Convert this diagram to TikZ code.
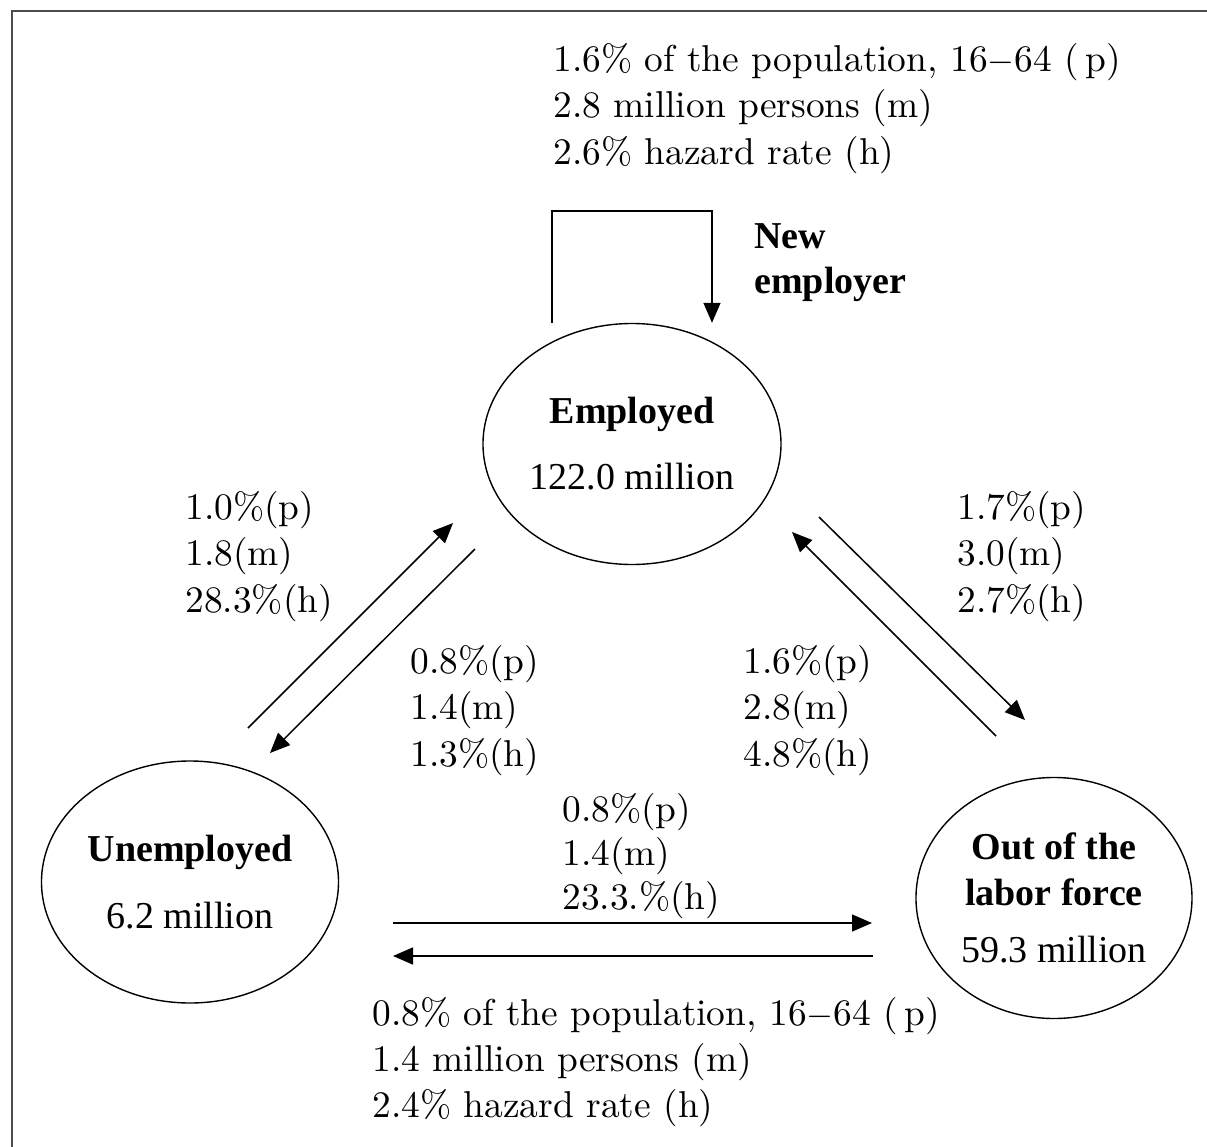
\documentclass[tikz,border=0pt]{standalone}
\usepackage{fontspec}
\setmainfont{lmroman10-regular}[Extension=.otf, BoldFont=lmroman10-bold]
\newfontfamily\garfont{Liberation Serif}
\usetikzlibrary{shapes.geometric,arrows.meta,calc}
\begin{document}
\begin{tikzpicture}[x=0.5pt,y=-0.5pt,
  lab/.style={anchor=base west, inner sep=0pt, font=\fontsize{18.7}{23.25}\selectfont},
  state/.style={draw, ellipse, line width=0.7pt, inner sep=0pt, align=center,
    font=\garfont\fontsize{19}{23}\selectfont},
  flow/.style={line width=0.75pt, -{Triangle[length=10pt,width=8.5pt]}},
  frameline/.style={line width=1pt, draw=black!70}]
\useasboundingbox (0,0) rectangle (1207,1147);
\draw[frameline] (12,1147) -- (12,11) -- (1207,11);

% states
\node[state, minimum width=149pt, minimum height=120.5pt] (E) at (632,444)
  {{\garfont\bfseries Employed}\\[10pt]{\garfont 122.0 million}};
\node[state, minimum width=148.5pt, minimum height=121pt] (U) at (190,882)
  {{\garfont\bfseries Unemployed}\\[10.5pt]{\garfont 6.2 million}};
\node[state, minimum width=138pt, minimum height=120.5pt] (O) at (1054,898)
  {{\garfont\bfseries Out of the}\\{\garfont\bfseries labor force}\\[5.5pt]{\garfont 59.3 million}};

% self loop
\draw[flow] ($(E.north)+(-80,0)$) -- ++(0,-112) -| ($(E.north)+(80,0)$);
\node[lab, font=\garfont\bfseries\fontsize{19}{22.5}\selectfont] (NE) at (754,248)
  {\vtop{\hbox{New}\hbox{employer}}};

% flows
\draw[flow] ($(U.center)+(58,-154)$) -- ($(E.center)+(-179,79)$);
\draw[flow] ($(E.center)+(-157,105)$) -- ($(U.center)+(80,-129)$);
\draw[flow] ($(E.center)+(187,73)$) -- ($(O.center)+(-29,-178)$);
\draw[flow] ($(O.center)+(-58,-162)$) -- ($(E.center)+(160,88)$);
\draw[flow] ($(U.center)+(203,41)$) -- ($(O.center)+(-182,25)$);
\draw[flow] ($(O.center)+(-181,58)$) -- ($(U.center)+(203,74)$);

% labels
\node[lab] (Ltop) at (553,71)
  {\vtop{\hbox{1.6\% of the population, 16$-$64 (\,p)}\hbox{2.8 million persons (m)}\hbox{2.6\% hazard rate (h)}}};
\node[lab] (Lue) at (185,519)
  {\vtop{\hbox{1.0\%(p)}\hbox{1.8(m)}\hbox{28.3\%(h)}}};
\node[lab] (Leu) at (410,673)
  {\vtop{\hbox{0.8\%(p)}\hbox{1.4(m)}\hbox{1.3\%(h)}}};
\node[lab] (Leo) at (957,519)
  {\vtop{\hbox{1.7\%(p)}\hbox{3.0(m)}\hbox{2.7\%(h)}}};
\node[lab] (Loe) at (743,673)
  {\vtop{\hbox{1.6\%(p)}\hbox{2.8(m)}\hbox{4.8\%(h)}}};
\node[lab, font=\fontsize{18.7}{22.2}\selectfont] (Luo) at (562,821)
  {\vtop{\hbox{0.8\%(p)}\hbox{1.4(m)}\hbox{23.3.\%(h)}}};
\node[lab, font=\fontsize{18.7}{23}\selectfont] (Lou) at (372,1025)
  {\vtop{\hbox{0.8\% of the population, 16$-$64 (\,p)}\hbox{1.4 million persons (m)}\hbox{2.4\% hazard rate (h)}}};
\end{tikzpicture}
\end{document}
